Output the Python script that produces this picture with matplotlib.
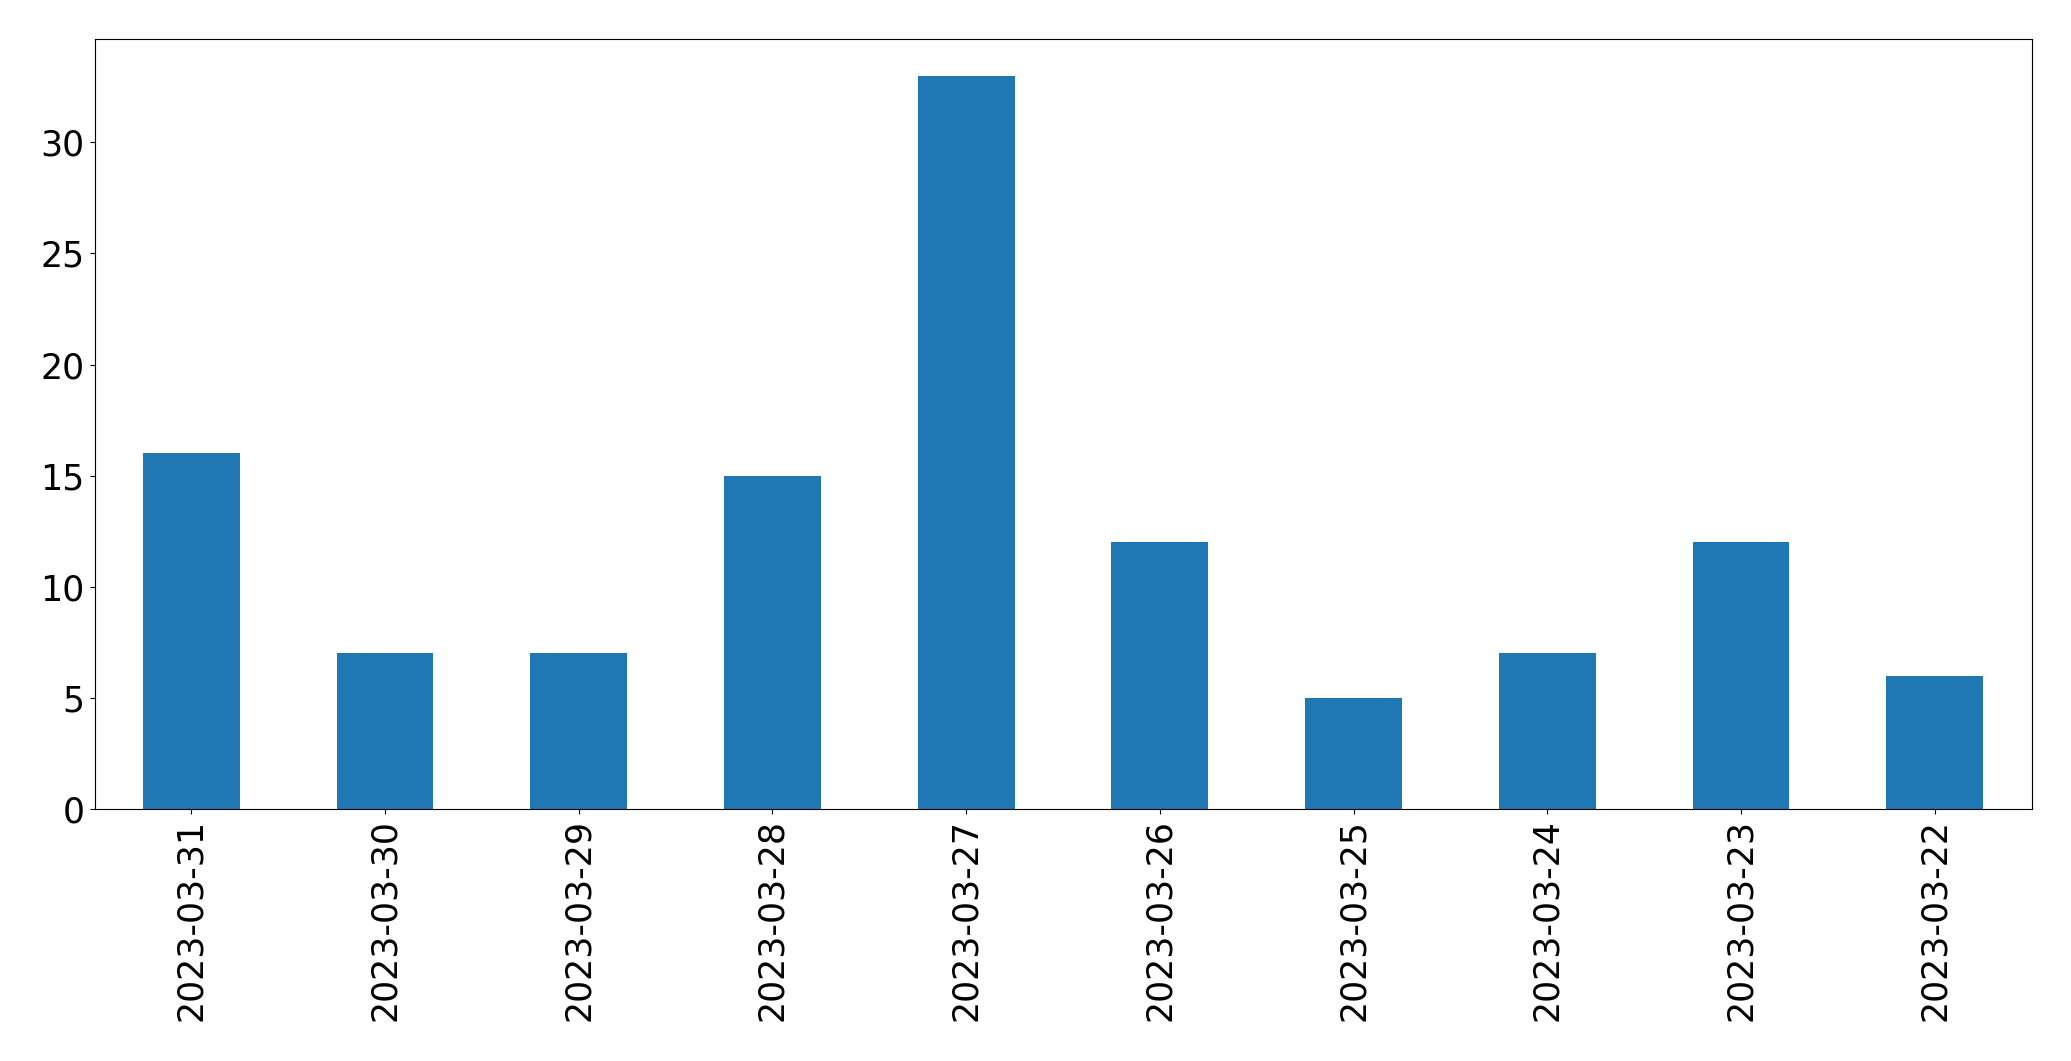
import matplotlib
matplotlib.use("Agg")
import matplotlib.pyplot as plt
import pandas as pd

dates = ["2023-03-31", "2023-03-30", "2023-03-29", "2023-03-28", "2023-03-27",
         "2023-03-26", "2023-03-25", "2023-03-24", "2023-03-23", "2023-03-22"]
counts = [16, 7, 7, 15, 33, 12, 5, 7, 12, 6]

fig = plt.figure(figsize=(20.71, 10.61), dpi=100)
ax = fig.add_axes([94.5/2071, 1-809/1061, (2031.5-94.5)/2071, (809-39)/1061])
s = pd.Series(counts, index=dates)
s.plot(kind="bar", ax=ax, color="#1f77b4", fontsize=25)
ax.tick_params(axis="x", labelrotation=90)
fig.savefig("out.png", dpi=100)
